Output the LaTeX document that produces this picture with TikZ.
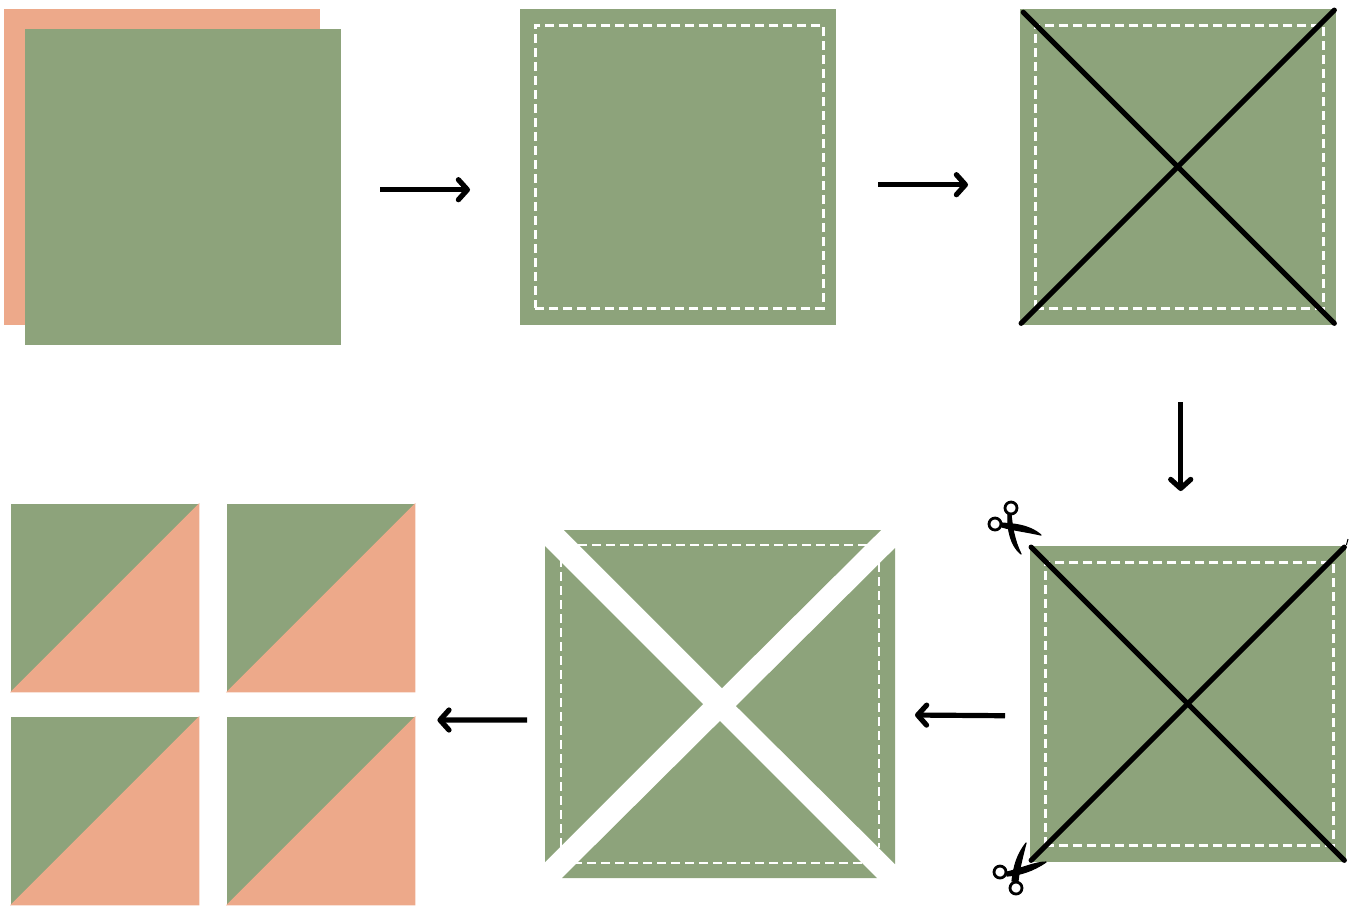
\documentclass[tikz,border=0pt]{standalone}
\usepackage{xcolor}
\usetikzlibrary{positioning, arrows.meta}
\definecolor{quiltgreen}{HTML}{8DA37B}
\definecolor{quiltpink}{HTML}{EDA98A}
\tikzset{
    patch/.style={fill=quiltgreen, draw=none, inner sep=0pt, minimum size=3.16cm, anchor=north west},
    backpatch/.style={patch, fill=quiltpink},
    stitch/.style={draw=white, line width=0.028cm, dash pattern=on 0.09cm off 0.05cm},
    stitchbox/.style={stitch, inner sep=0pt, minimum width=2.88cm, minimum height=2.83cm, anchor=north west},
    cutline/.style={black, line width=0.052cm, line cap=round, shorten <=0.03cm, shorten >=0.03cm},
    flowarrow/.style={-{Straight Barb[length=0.09cm, width=0.2cm, round]}, black, line width=0.052cm},
    halfsquare/.style={inner sep=0pt, minimum size=1.88cm, fill=quiltgreen, anchor=north west},
    blade/.style={fill=black, draw=black, line width=0.012cm, line join=round},
    fingerring/.style={draw=black, fill=white, line width=0.028cm}
}
\begin{document}
\begin{tikzpicture}
    \useasboundingbox (0.01,-0.01) rectangle (13.52,-9.06);

    % Two squares laid together
    \node[backpatch] (pinkback) at (0.04,-0.09) {};
    \node[patch] (greenfront) at (0.25,-0.29) {};

    % Sewn square
    \node[patch] (sewn) at (5.20,-0.09) {};
    \node[stitchbox] (sewnstitch) at (5.35,-0.25) {};

    % Marked square
    \node[patch] (marked) at (10.20,-0.09) {};
    \node[stitchbox] (markedstitch) at (10.35,-0.25) {};
    \draw[cutline, shorten <=0.06cm] (marked.north west) -- (marked.south east);
    \draw[cutline] (marked.south west) -- (marked.north east);

    % Square with scissors
    \node[patch] (snip) at (10.30,-5.46) {};
    \node[stitchbox] (snipstitch) at (10.45,-5.62) {};
    \draw[cutline] (snip.north west) -- (snip.south east);
    \draw[cutline] (snip.south west) -- (snip.north east);
    \coordinate (sniptick) at (13.49,-5.40);
    \draw[black, line width=0.01cm] (snip.north east) -- (sniptick);

    % Scissors, top
    \filldraw[blade] (10.03,-5.24) .. controls (10.13,-5.25) and (10.29,-5.25) .. (10.42,-5.36)
        .. controls (10.29,-5.33) and (10.13,-5.31) .. (10.03,-5.28) -- cycle;
    \filldraw[blade] (10.12,-5.15) .. controls (10.13,-5.26) and (10.15,-5.41) .. (10.22,-5.55)
        .. controls (10.12,-5.47) and (10.08,-5.31) .. (10.09,-5.15) -- cycle;
    \draw[fingerring] (10.12,-5.09) circle [radius=0.06];
    \draw[fingerring] (9.96,-5.25) circle [radius=0.06];

    % Scissors, bottom
    \filldraw[blade] (10.08,-8.73) .. controls (10.21,-8.70) and (10.36,-8.63) .. (10.47,-8.63)
        .. controls (10.34,-8.72) and (10.21,-8.76) .. (10.08,-8.77) -- cycle;
    \filldraw[blade] (10.13,-8.82) .. controls (10.15,-8.66) and (10.18,-8.56) .. (10.27,-8.44)
        .. controls (10.22,-8.63) and (10.20,-8.73) .. (10.19,-8.82) -- cycle;
    \draw[fingerring] (10.01,-8.73) circle [radius=0.06];
    \draw[fingerring] (10.17,-8.89) circle [radius=0.06];

    % Square cut into four
    \fill[quiltgreen] (5.65,-5.31) -- (8.82,-5.31) -- (7.23,-6.89) -- cycle;
    \fill[quiltgreen] (5.46,-5.47) -- (5.46,-8.63) -- (7.04,-7.05) -- cycle;
    \fill[quiltgreen] (8.96,-5.49) -- (8.96,-8.65) -- (7.37,-7.07) -- cycle;
    \fill[quiltgreen] (5.63,-8.79) -- (8.78,-8.79) -- (7.21,-7.22) -- cycle;
    \draw[stitch] (5.79,-5.46) -- (8.68,-5.46);
    \draw[stitch, line width=0.016cm] (5.62,-5.59) -- (5.62,-8.49);
    \draw[stitch] (8.80,-5.64) -- (8.80,-8.49);
    \draw[stitch] (5.74,-8.64) -- (8.64,-8.64);

    % Finished half square triangles
    \node[halfsquare] (halfa) at (0.11,-5.04) {};
    \node[halfsquare] (halfb) at (2.27,-5.04) {};
    \node[halfsquare] (halfc) at (0.11,-7.17) {};
    \node[halfsquare] (halfd) at (2.27,-7.17) {};
    \foreach \h in {halfa, halfb, halfc, halfd}
        \fill[quiltpink] (\h.south west) -- (\h.north east) -- (\h.south east) -- cycle;

    % Arrows between the steps
    \draw[flowarrow] ([xshift=0.39cm,yshift=-0.03cm]greenfront.east) -- ([xshift=-0.49cm,yshift=-0.23cm]sewn.west);
    \draw[flowarrow] ([xshift=0.42cm,yshift=-0.18cm]sewn.east) -- ([xshift=-0.51cm,yshift=-0.18cm]marked.west);
    \draw[flowarrow] ([xshift=0.03cm,yshift=-0.77cm]marked.south) -- ([xshift=-0.07cm,yshift=0.54cm]snip.north);
    \draw[flowarrow] ([xshift=-0.24cm,yshift=-0.12cm]snip.west) -- (9.16,-7.16);
    \draw[flowarrow] (5.28,-7.21) -- ([xshift=0.22cm,yshift=-0.04cm]halfb.east |- halfd.north east);
\end{tikzpicture}
\end{document}
